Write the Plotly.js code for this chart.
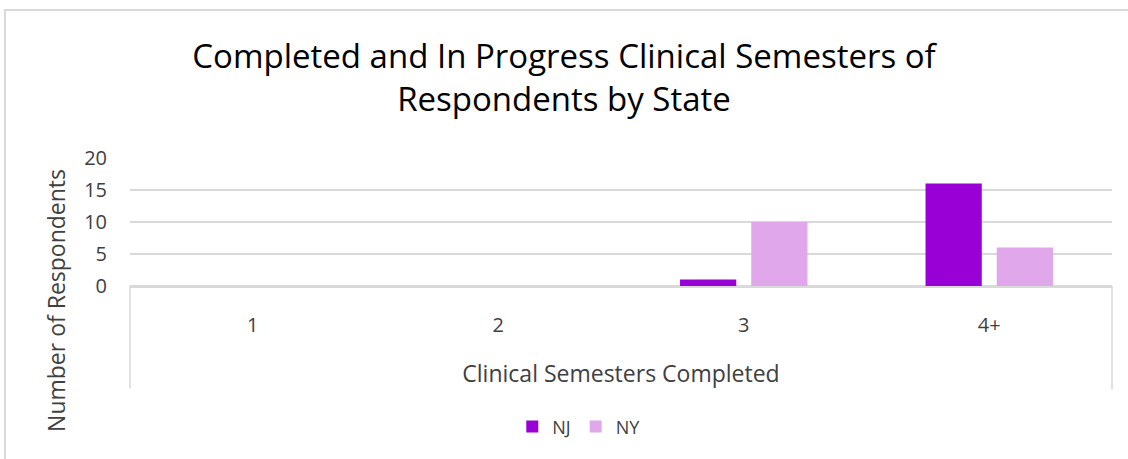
<!DOCTYPE html>
<html>
<head>
<meta charset="utf-8">
<script src="https://cdn.plot.ly/plotly-3.0.1.min.js"></script>
<style>
  html, body { margin: 0; padding: 0; background: #fff; }
  #wrap { position: relative; width: 1128px; height: 459px; overflow: hidden; }
  #chart { width: 1128px; height: 459px; }
  #frame { position: absolute; left: 4px; top: 9px; width: 1300px; height: 600px;
           border-top: 2px solid #d9d9d9; border-left: 2px solid #d9d9d9; pointer-events: none; }
</style>
</head>
<body>
<div id="wrap">
  <div id="chart"></div>
  <div id="frame"></div>
</div>
<script>
const categories = ["1", "2", "3", "4+"];
const seriesNames = ["NJ", "NY"];
const njValues = [0, 0, 1, 16];
const nyValues = [0, 0, 10, 6];
const yTicks = [0, 5, 10, 15, 20];

const FONT = "Open Sans, Lato, sans-serif";
const TXT = "#404040";

const traces = [
  {
    type: "bar", name: seriesNames[0], x: categories, y: njValues,
    marker: { color: "#9900D6" },
    hoverinfo: "x+y+name"
  },
  {
    type: "bar", name: seriesNames[1], x: categories, y: nyValues,
    marker: { color: "#E0A7EB" },
    hoverinfo: "x+y+name"
  }
];

const layout = {
  width: 1128, height: 459,
  paper_bgcolor: "#ffffff", plot_bgcolor: "#ffffff",
  margin: { l: 130, r: 16, t: 158, b: 173, pad: 0 },
  font: { family: FONT, color: TXT },
  title: {
    text: "Completed and In Progress Clinical Semesters of<br>Respondents by State",
    font: { family: FONT, size: 33, color: "#000000" },
    x: 0.5, xanchor: "center", y: 0.852, yanchor: "middle"
  },
  barmode: "group",
  bargap: 0.42,
  bargroupgap: 0.21,
  xaxis: {
    type: "category",
    showgrid: false, zeroline: false,
    showline: true, linecolor: "#d9d9d9", linewidth: 1.5,
    ticks: "", ticklabelstandoff: 20,
    tickfont: { family: FONT, size: 20, color: TXT },
    title: { text: "Clinical Semesters Completed", font: { family: FONT, size: 23, color: TXT }, standoff: 29 },
    automargin: false, fixedrange: true
  },
  yaxis: {
    range: [0, 20], tickvals: yTicks, ticktext: yTicks.map(String),
    showgrid: true, gridcolor: "#d9d9d9", gridwidth: 1.5,
    zeroline: true, zerolinecolor: "#d9d9d9", zerolinewidth: 1.5,
    showline: false, ticks: "", ticklabelstandoff: 22,
    tickfont: { family: FONT, size: 20, color: TXT },
    automargin: false, fixedrange: true
  },
  showlegend: true,
  legend: {
    orientation: "h", x: 0.457, xanchor: "center", y: -1.10, yanchor: "middle",
    font: { family: FONT, size: 18, color: TXT },
    itemwidth: 30, traceorder: "normal"
  },
  annotations: [
    {
      text: "Number of Respondents", xref: "paper", yref: "paper",
      x: -0.0755, y: -0.11, xanchor: "center", yanchor: "middle",
      textangle: -90, showarrow: false,
      font: { family: FONT, size: 23, color: TXT }
    }
  ],
  shapes: [
    { type: "line", xref: "paper", yref: "paper", x0: 0, x1: 0, y0: 0, y1: -0.80,
      line: { color: "#d9d9d9", width: 1.5 } },
    { type: "line", xref: "paper", yref: "paper", x0: 1, x1: 1, y0: 0, y1: -0.81,
      line: { color: "#d9d9d9", width: 1.5 } }
  ]
};

Plotly.newPlot("chart", traces, layout, { displayModeBar: false, staticPlot: true });
</script>
</body>
</html>
